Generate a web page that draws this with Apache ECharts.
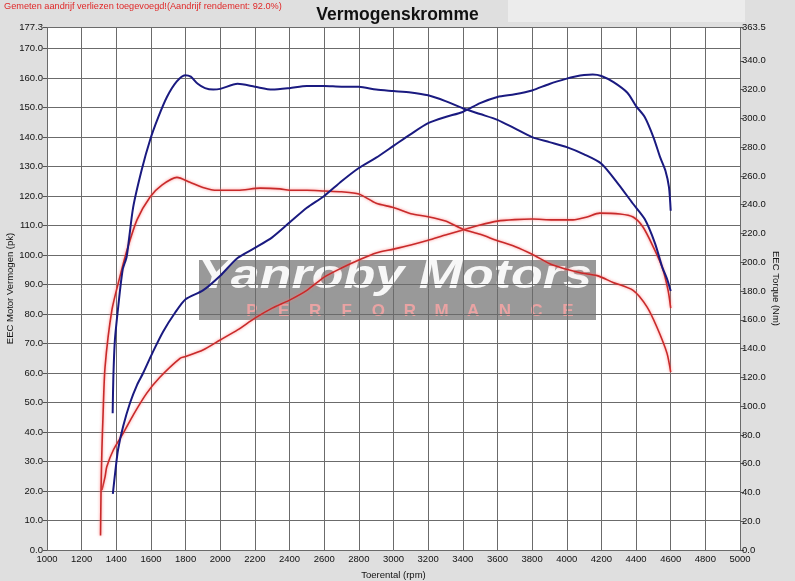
<!DOCTYPE html>
<html>
<head>
<meta charset="utf-8">
<script src="https://cdn.jsdelivr.net/npm/echarts@6/dist/echarts.min.js"></script>
<style>
html,body{margin:0;padding:0;background:#dfdfdf;}
#c{width:795px;height:581px;}
</style>
</head>
<body>
<div id="c"></div>
<script>
// ---- data ----
const xTicks = [1000, 5000, 200];   // min, max, interval (rpm)
const leftAxis = [0, 177.3, 10];   // pk
const rightAxis = [0, 363.5, 20];  // Nm

const bluePowerRpm = [1380,1395,1410,1440,1480,1520,1555,1610,1670,1740,1800,1900,2000,2100,2200,2300,2400,2500,2600,2700,2800,2900,3000,3100,3200,3300,3400,3500,3600,3700,3800,3900,4000,4050,4100,4150,4200,4270,4350,4400,4450,4500,4540,4570,4590,4600];
const bluePowerPk  = [19,27,34,42,50,56,60,67,74,80.5,85,88,93,99,102.4,106,111,116,120,125,129.5,133,137,141,144.7,146.8,148.5,151.5,153.6,154.5,155.8,158,159.8,160.5,161,161.2,160.7,158.6,155,150.5,146.8,140,133,128.5,123,115];

const blueTorqueRpm = [1379,1383,1392,1411,1437,1460,1497,1546,1595,1643,1693,1748,1797,1830,1870,1912,1960,2000,2100,2200,2300,2400,2500,2600,2700,2800,2900,3000,3100,3200,3300,3400,3500,3600,3700,3800,3900,4000,4100,4200,4300,4380,4450,4510,4550,4580,4600];
const blueTorqueNm  = [95,120,146,169,195,204,238,264,285,301,315,325.5,330,329,324,321,320,320.5,324,322,320,321,322.5,322.5,322,322,320,319,318,316,312,307,303,299,293,287,283.5,280,275,268.5,254,241,230,213,197,188,180];

const redPowerRpm = [1317,1335,1345,1383,1440,1500,1575,1650,1768,1800,1900,2000,2100,2200,2300,2400,2500,2600,2700,2800,2900,3000,3100,3200,3300,3400,3500,3600,3700,3800,3920,4036,4117,4190,4307,4383,4440,4500,4550,4585,4600];
const redPowerPk  = [20.3,24.8,28.2,33.9,39.6,46,53.1,58.5,65,65.6,67.8,71.2,74.6,78.6,82,84.7,88,92.5,95.6,98.3,100.7,102,103.4,105,106.8,108.5,110.2,111.5,112,112.2,111.9,111.9,112.9,114.2,113.9,112.9,109.5,102.7,96,88,82];

const redTorqueRpm = [1309,1312,1317,1323,1335,1375,1421,1462,1520,1595,1663,1750,1825,1900,1981,2102,2230,2345,2400,2500,2600,2700,2800,2900,3000,3100,3200,3300,3400,3500,3600,3700,3800,3920,4077,4175,4267,4383,4463,4520,4578,4600];
const redTorqueNm  = [10,42,70,92,127,167,190,208.5,229.6,245.4,253.6,259,255.6,252,250,250,251.5,251,250,250,249.5,249,247.5,241,238,233.7,231.6,228.6,223,219.4,215,211,205.6,198,192.7,190.7,186,180.4,169,155,137,123.6];

const zip = (a, b) => a.map((v, i) => [v, b[i]]);

const BLUE = '#1a1a80';
const RED = '#c82a2a';
const FONT = 'Liberation Sans, Arial, sans-serif';

const chart = echarts.init(document.getElementById('c'), null, {renderer: 'canvas'});

const letters = 'PERFORMANCE'.split('');
const perfEls = letters.map((ch, i) => ({
  type: 'text', x: 252 + i * 31.6, y: 311,
  style: {text: ch, fill: '#f7a4a4', font: 'bold 17px ' + FONT, textAlign: 'center', textVerticalAlign: 'middle', opacity: 0.85}
}));

const lineSeries = (name, data, yIdx, color, glow, w) => ({
  name, type: 'line', yAxisIndex: yIdx, data, showSymbol: false, smooth: 0.25,
  lineStyle: {color, width: w, shadowColor: glow, shadowBlur: glow ? 3 : 0},
  itemStyle: {color}, z: 3, animation: false
});

chart.setOption({
  backgroundColor: '#dfdfdf',
  animation: false,
  title: [
    {text: 'Vermogenskromme', left: 'center', top: 1,
     textStyle: {fontFamily: FONT, fontSize: 17.5, fontWeight: 'bold', color: '#111'}},
    {text: 'Gemeten aandrijf verliezen toegevoegd!(Aandrijf rendement: 92.0%)', left: 4, top: 2, padding: 0,
     textStyle: {fontFamily: FONT, fontSize: 9.2, fontWeight: 'normal', color: '#e02828'}}
  ],
  grid: {left: 47, right: 55, top: 27, bottom: 31, containLabel: false, outerBoundsMode: 'none',
         show: true, backgroundColor: '#ffffff', borderWidth: 0},
  xAxis: {
    type: 'value', min: xTicks[0], max: xTicks[1], interval: xTicks[2],
    name: 'Toerental (rpm)', nameLocation: 'middle', nameGap: 20, nameMoveOverlap: false,
    nameTextStyle: {fontFamily: FONT, fontSize: 9.5, color: '#111'},
    axisLine: {show: false}, axisTick: {show: false},
    axisLabel: {fontFamily: FONT, fontSize: 9.5, color: '#111', margin: 4, showMinLabel: true, showMaxLabel: true,
                formatter: v => String(v)},
    splitLine: {show: true, lineStyle: {color: '#6b6b6b', width: 1}}
  },
  yAxis: [
    {
      type: 'value', min: leftAxis[0], max: leftAxis[1], interval: leftAxis[2], position: 'left',
      name: 'EEC Motor Vermogen (pk)', nameLocation: 'middle', nameGap: 32, nameRotate: 90, nameMoveOverlap: false,
      nameTextStyle: {fontFamily: FONT, fontSize: 9.5, color: '#111'},
      axisLine: {show: false},
      axisTick: {show: true, length: 4, lineStyle: {color: '#555'}},
      axisLabel: {fontFamily: FONT, fontSize: 9.5, color: '#111', margin: 4, formatter: v => v.toFixed(1), showMaxLabel: true},
      splitLine: {show: true, lineStyle: {color: '#6b6b6b', width: 1}}
    },
    {
      type: 'value', min: rightAxis[0], max: rightAxis[1], interval: rightAxis[2], position: 'right',
      name: 'EEC Torque (Nm)', nameLocation: 'middle', nameGap: 31, nameRotate: -90, nameMoveOverlap: false,
      nameTextStyle: {fontFamily: FONT, fontSize: 9.5, color: '#111'},
      axisLine: {show: false},
      axisTick: {show: true, length: 4, lineStyle: {color: '#555'}},
      axisLabel: {fontFamily: FONT, fontSize: 9.5, color: '#111', margin: 2, formatter: v => v.toFixed(1), showMaxLabel: true},
      splitLine: {show: false}
    }
  ],
  series: [
    lineSeries('Vermogen (ref)', zip(redPowerRpm, redPowerPk), 0, RED, 'rgba(255,120,120,0.9)', 1.6),
    lineSeries('Torque (ref)', zip(redTorqueRpm, redTorqueNm), 1, RED, 'rgba(255,120,120,0.9)', 1.6),
    lineSeries('Vermogen', zip(bluePowerRpm, bluePowerPk), 0, BLUE, null, 2),
    lineSeries('Torque', zip(blueTorqueRpm, blueTorqueNm), 1, BLUE, null, 2)
  ],
  graphic: [
    {type: 'rect', z: -1, shape: {x: 508, y: 0, width: 237, height: 22}, style: {fill: '#ececec'}},
    {type: 'group', z: 100, children: [
      {type: 'rect', shape: {x: 199, y: 260, width: 397, height: 60}, style: {fill: '#505050', opacity: 0.58}},
      {type: 'text', x: 395, y: 277, scaleX: 1.3, style: {text: 'Yanroby Motors', fill: '#ffffff', opacity: 0.92,
        font: 'italic bold 40px ' + FONT, textAlign: 'center', textVerticalAlign: 'middle'}}
    ].concat(perfEls)}
  ]
});
</script>
</body>
</html>
